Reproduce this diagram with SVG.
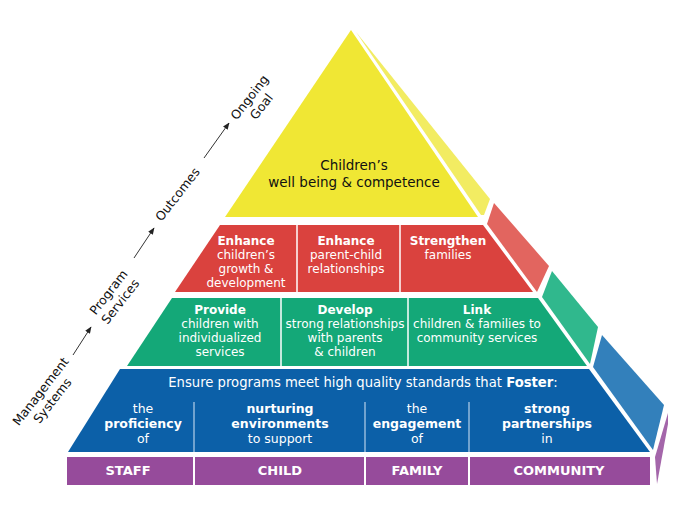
<svg xmlns="http://www.w3.org/2000/svg" width="694" height="532" viewBox="0 0 694 532">
<defs>
<style>
text{font-family:"DejaVu Sans",Verdana,"Liberation Sans",sans-serif;text-anchor:middle}
.w{fill:#fff;font-size:12px}
.bl{fill:#fff;font-size:12.5px}
.b{font-weight:bold}
.pl{fill:#fff;font-size:13px;font-weight:bold}
.k{fill:#111;font-size:13px}
.s{fill:#111;font-size:12.5px}
.div{stroke:#fff;stroke-width:1.5}
.bdiv{stroke:#b8d0ea;stroke-width:1.2}
.arr{stroke:#333;stroke-width:1;fill:none;marker-end:url(#ah)}
</style>
<marker id="ah" viewBox="0 0 10 10" refX="9" refY="5" markerWidth="7" markerHeight="7" orient="auto" markerUnits="userSpaceOnUse">
<path d="M0,1 L10,5 L0,9 z" fill="#222"/>
</marker>
</defs>
<rect width="694" height="532" fill="#fff"/>

<g id="goal">
<polygon points="351,30 478,217 225,217" fill="#f0e734"/>
<polygon points="356,32 490,199 484,215 481,215" fill="#f2ec62"/>
<text class="k" style="font-size:13.5px" x="354" y="170">Children’s</text>
<text class="k" style="font-size:13.5px" x="354" y="187">well being &amp; competence</text>
</g>

<g id="outcomes">
<polygon points="220,225 483,225 533,292 175,292" fill="#da423e"/>
<polygon points="487,224 494,203 549,266 537,292" fill="#e2655f"/>
<line class="div" x1="297" y1="225" x2="297" y2="292"/>
<line class="div" x1="400" y1="225" x2="400" y2="292"/>
<text class="w"><tspan class="b" x="246" y="245">Enhance</tspan><tspan x="246" y="259">children’s</tspan><tspan x="246" y="273">growth &amp;</tspan><tspan x="246" y="287">development</tspan></text>
<text class="w"><tspan class="b" x="346" y="245">Enhance</tspan><tspan x="346" y="259">parent-child</tspan><tspan x="346" y="273">relationships</tspan></text>
<text class="w"><tspan class="b" x="448" y="245">Strengthen</tspan><tspan x="448" y="259">families</tspan></text>
</g>

<g id="services">
<polygon points="172,298 538,298 587,366 127,366" fill="#14a878"/>
<polygon points="542,297 552,271 598,327 590,364" fill="#30b88d"/>
<line class="div" x1="281" y1="298" x2="281" y2="366"/>
<line class="div" x1="408" y1="298" x2="408" y2="366"/>
<text class="w"><tspan class="b" x="220" y="314">Provide</tspan><tspan x="220" y="328">children with</tspan><tspan x="220" y="342">individualized</tspan><tspan x="220" y="356">services</tspan></text>
<text class="w"><tspan class="b" x="345" y="314">Develop</tspan><tspan x="345" y="328">strong relationships</tspan><tspan x="345" y="342">with parents</tspan><tspan x="345" y="356">&amp; children</tspan></text>
<text class="w"><tspan class="b" x="477" y="314">Link</tspan><tspan x="477" y="328">children &amp; families to</tspan><tspan x="477" y="342">community services</tspan></text>
</g>

<g id="systems">
<polygon points="120,369 589,369 650,452 68,452" fill="#0c60a8"/>
<polygon points="593,367 602,335 664,405 653,450" fill="#3380bb"/>
<line class="bdiv" x1="194" y1="402" x2="194" y2="452"/>
<line class="bdiv" x1="365" y1="402" x2="365" y2="452"/>
<line class="bdiv" x1="469" y1="402" x2="469" y2="452"/>
<text class="bl" style="font-size:13.2px" x="363" y="387">Ensure programs meet high quality standards that <tspan class="b">Foster</tspan>:</text>
<text class="bl"><tspan x="143" y="413">the</tspan><tspan class="b" x="143" y="428">proficiency</tspan><tspan x="143" y="443">of</tspan></text>
<text class="bl"><tspan class="b" x="280" y="413">nurturing</tspan><tspan class="b" x="280" y="428">environments</tspan><tspan x="280" y="443">to support</tspan></text>
<text class="bl"><tspan x="417" y="413">the</tspan><tspan class="b" x="417" y="428">engagement</tspan><tspan x="417" y="443">of</tspan></text>
<text class="bl"><tspan class="b" x="547" y="413">strong</tspan><tspan class="b" x="547" y="428">partnerships</tspan><tspan x="547" y="443">in</tspan></text>
</g>

<g id="foundation">
<rect x="67" y="457" width="583" height="28" fill="#964b9b"/>
<polygon points="655,457 668,413 668,424 657,484" fill="#a466aa"/>
<line class="div" x1="194" y1="457" x2="194" y2="485" style="stroke-width:2"/>
<line class="div" x1="365" y1="457" x2="365" y2="485" style="stroke-width:2"/>
<line class="div" x1="469" y1="457" x2="469" y2="485" style="stroke-width:2"/>
<text class="pl" x="128" y="475">STAFF</text>
<text class="pl" x="280" y="475">CHILD</text>
<text class="pl" x="417" y="475">FAMILY</text>
<text class="pl" x="559" y="475">COMMUNITY</text>
</g>

<g id="label-management">
<text class="s" transform="translate(44,394) rotate(-52)"><tspan x="0" y="0">Management</tspan><tspan x="0" y="15">Systems</tspan></text>
</g>
<g id="label-program">
<text class="s" transform="translate(112,295) rotate(-52)"><tspan x="0" y="0">Program</tspan><tspan x="0" y="15">Services</tspan></text>
</g>
<g id="label-outcomes">
<text class="s" transform="translate(181,197) rotate(-52)">Outcomes</text>
</g>
<g id="label-goal">
<text class="s" transform="translate(253,100) rotate(-52)"><tspan x="0" y="0">Ongoing</tspan><tspan x="0" y="15">Goal</tspan></text>
</g>

<g id="connectors">
<line class="arr" x1="73" y1="355" x2="91" y2="327"/>
<line class="arr" x1="134" y1="258" x2="154" y2="228"/>
<line class="arr" x1="204" y1="158" x2="229" y2="123"/>
</g>
</svg>
